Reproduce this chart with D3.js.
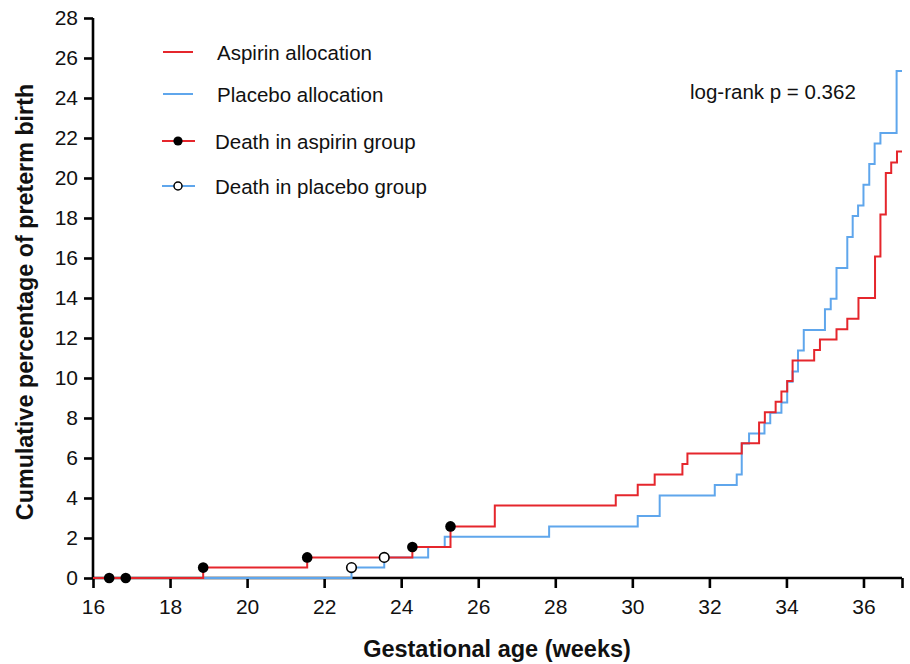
<!DOCTYPE html>
<html>
<head>
<meta charset="utf-8">
<script src="https://cdn.jsdelivr.net/npm/d3@7"></script>
<style>
  body { margin: 0; background: #fff; }
  svg text { font-family: "Liberation Sans", Arial, sans-serif; fill: #111; }
</style>
</head>
<body>
<svg id="chart" width="910" height="664"></svg>
<script>
// cumulative % of preterm birth, step times (weeks) and level after each step
var aspirinWeeks = [16, 18.86, 21.56, 24.29, 25.28, 26.43, 29.57, 30.14, 30.58, 31.30, 31.43, 32.84, 33.29, 33.44, 33.72, 33.87, 34.02, 34.16, 34.72, 34.87, 35.30, 35.58, 35.87, 36.30, 36.44, 36.58, 36.72, 36.87];
var aspirinPct   = [0, 0.52, 1.03, 1.55, 2.58, 3.62, 4.14, 4.66, 5.18, 5.70, 6.22, 6.74, 7.77, 8.29, 8.81, 9.33, 9.85, 10.88, 11.40, 11.92, 12.44, 12.96, 14.00, 16.07, 18.18, 20.25, 20.78, 21.32];

var placeboWeeks = [16, 22.71, 23.56, 24.70, 25.13, 27.84, 30.14, 30.71, 32.14, 32.71, 32.84, 33.03, 33.43, 33.58, 33.87, 34.02, 34.16, 34.30, 34.45, 35.00, 35.15, 35.30, 35.58, 35.72, 35.86, 36.00, 36.15, 36.29, 36.44, 36.86];
var placeboPct   = [0, 0.52, 1.03, 1.55, 2.06, 2.58, 3.10, 4.13, 4.65, 5.17, 6.72, 7.22, 7.74, 8.26, 8.78, 9.81, 10.33, 11.37, 12.40, 13.44, 13.96, 15.50, 17.05, 18.10, 18.62, 19.66, 20.70, 21.73, 22.25, 25.35];

var endWeek = 37;

var aspirinDeathWeeks = [16.42, 16.85, 18.86, 21.56, 24.29, 25.28];
var aspirinDeathPct   = [0, 0, 0.52, 1.03, 1.55, 2.58];
var placeboDeathWeeks = [22.71, 23.56];
var placeboDeathPct   = [0.52, 1.03];

var xTicks = [16, 18, 20, 22, 24, 26, 28, 30, 32, 34, 36, 37];
var yTicks = [0, 2, 4, 6, 8, 10, 12, 14, 16, 18, 20, 22, 24, 26, 28];

var legendLabels = ["Aspirin allocation", "Placebo allocation", "Death in aspirin group", "Death in placebo group"];
var pText = "log-rank p = 0.362";

var red = "#e5262c";
var blue = "#5fa6ec";

var svg = d3.select("#chart");

var x = d3.scaleLinear().domain([16, 37]).range([93, 902]);
var y = d3.scaleLinear().domain([0, 28]).range([578, 18]);

// axes
var xAxis = svg.append("g")
    .attr("transform", "translate(0," + y(0) + ")")
    .call(d3.axisBottom(x).tickValues(xTicks).tickSize(10).tickPadding(11)
        .tickFormat(function (d) { return d === 37 ? "" : d; }));

var yAxis = svg.append("g")
    .attr("transform", "translate(" + x(16) + ",0)")
    .call(d3.axisLeft(y).tickValues(yTicks).tickSize(9).tickPadding(6));

[xAxis, yAxis].forEach(function (g) {
    g.select(".domain").attr("stroke", "#000").attr("stroke-width", 2.6)
        .attr("d", g === xAxis ? "M" + x(16) + ",0H" + x(37) : "M0," + y(0) + "V" + y(28));
    g.selectAll(".tick line").attr("stroke", "#000").attr("stroke-width", 2.6);
    g.selectAll(".tick text").attr("font-size", 21).attr("fill", "#111")
        .style("font-family", "'Liberation Sans', Arial, sans-serif");
});

// axis titles
svg.append("text")
    .attr("x", 497)
    .attr("y", 657)
    .attr("text-anchor", "middle")
    .attr("font-size", 23.5)
    .attr("font-weight", "bold")
    .text("Gestational age (weeks)");

svg.append("text")
    .attr("transform", "translate(33,302) rotate(-90)")
    .attr("text-anchor", "middle")
    .attr("font-size", 23.3)
    .attr("font-weight", "bold")
    .text("Cumulative percentage of preterm birth");

// step curves
var line = d3.line()
    .x(function (d) { return x(d[0]); })
    .y(function (d) { return y(d[1]); })
    .curve(d3.curveStepAfter);

function stepPoints(weeks, pct) {
    var pts = weeks.map(function (w, i) { return [w, pct[i]]; });
    pts.push([endWeek, pct[pct.length - 1]]);
    return pts;
}

svg.append("path")
    .attr("d", line(stepPoints(placeboWeeks, placeboPct)))
    .attr("fill", "none")
    .attr("stroke", blue)
    .attr("stroke-width", 2);

svg.append("path")
    .attr("d", line(stepPoints(aspirinWeeks, aspirinPct)))
    .attr("fill", "none")
    .attr("stroke", red)
    .attr("stroke-width", 2);

// deaths
svg.selectAll(".pdeath")
    .data(placeboDeathWeeks)
    .enter().append("circle")
    .attr("class", "pdeath")
    .attr("cx", function (d) { return x(d); })
    .attr("cy", function (d, i) { return y(placeboDeathPct[i]); })
    .attr("r", 4.8)
    .attr("fill", "#fff")
    .attr("stroke", "#000")
    .attr("stroke-width", 1.6);

svg.selectAll(".adeath")
    .data(aspirinDeathWeeks)
    .enter().append("circle")
    .attr("class", "adeath")
    .attr("cx", function (d) { return x(d); })
    .attr("cy", function (d, i) { return y(aspirinDeathPct[i]); })
    .attr("r", 5.3)
    .attr("fill", "#000");

// legend
var legendY = [52, 94, 141, 186];
var legend = svg.append("g");
legendLabels.forEach(function (lab, i) {
    var col = (i % 2 === 0) ? red : blue;
    var x0 = i < 2 ? 163 : 162, x1 = i < 2 ? 193 : 195;
    legend.append("line")
        .attr("x1", x0).attr("x2", x1)
        .attr("y1", legendY[i]).attr("y2", legendY[i])
        .attr("stroke", col).attr("stroke-width", 2);
    if (i === 2) {
        legend.append("circle").attr("cx", 178).attr("cy", legendY[i]).attr("r", 4.6).attr("fill", "#000");
    }
    if (i === 3) {
        legend.append("circle").attr("cx", 178).attr("cy", legendY[i]).attr("r", 4)
            .attr("fill", "#fff").attr("stroke", "#000").attr("stroke-width", 1.5);
    }
    legend.append("text")
        .attr("x", i < 2 ? 217 : 215)
        .attr("y", legendY[i] + 8)
        .attr("font-size", 20.5)
        .text(lab);
});

svg.append("text")
    .attr("x", 690)
    .attr("y", 99)
    .attr("font-size", 20.5)
    .text(pText);
</script>
</body>
</html>
